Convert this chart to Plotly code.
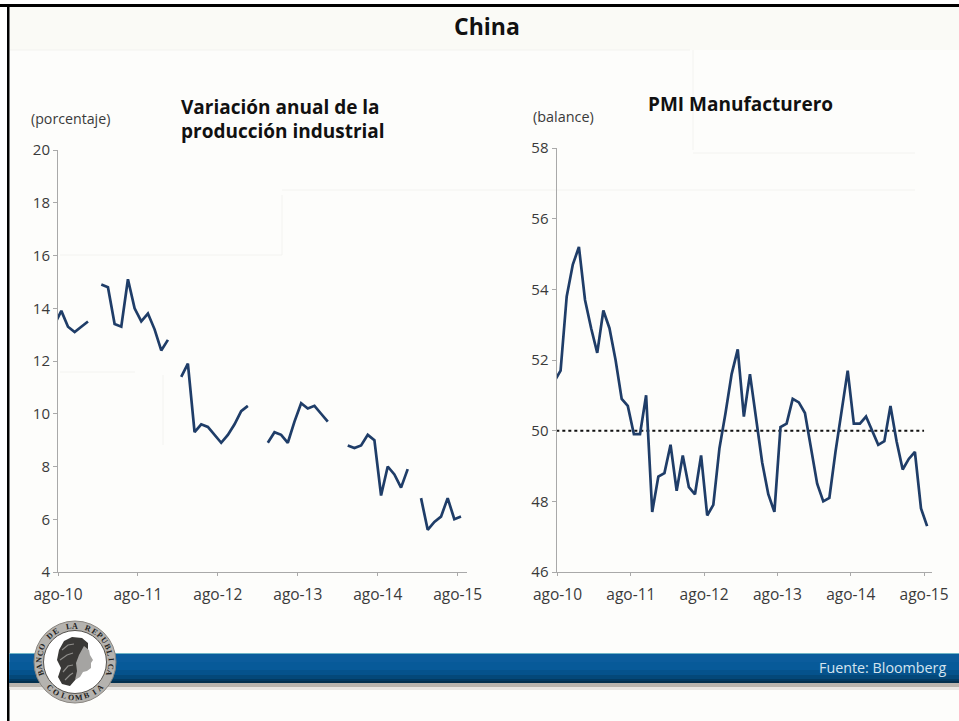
import math
import plotly.graph_objects as go

months = list(range(62))  # 0 = jul-10 ... 61 = ago-15
tick_labels = ["ago-10", "ago-11", "ago-12", "ago-13", "ago-14", "ago-15"]
tick_months = [0.5, 12.5, 24.5, 36.5, 48.5, 60.5]

produccion = [
    13.4, 13.9, 13.3, 13.1, 13.3, 13.5, None,
    14.9, 14.8, 13.4, 13.3, 15.1, 14.0, 13.5, 13.8, 13.2, 12.4, 12.8, None,
    11.4, 11.9, 9.3, 9.6, 9.5, 9.2, 8.9, 9.2, 9.6, 10.1, 10.3, None, None,
    8.9, 9.3, 9.2, 8.9, 9.7, 10.4, 10.2, 10.3, 10.0, 9.7, None, None,
    8.8, 8.7, 8.8, 9.2, 9.0, 6.9, 8.0, 7.7, 7.2, 7.9, None,
    6.8, 5.6, 5.9, 6.1, 6.8, 6.0, 6.1,
]
pmi = [
    51.4, 51.7, 53.8, 54.7, 55.2, 53.7, 52.9, 52.2, 53.4, 52.9, 52.0, 50.9,
    50.7, 49.9, 49.9, 51.0, 47.7, 48.7, 48.8, 49.6, 48.3, 49.3, 48.4, 48.2,
    49.3, 47.6, 47.9, 49.5, 50.5, 51.6, 52.3, 50.4, 51.6, 50.4, 49.1, 48.2,
    47.7, 50.1, 50.2, 50.9, 50.8, 50.5, 49.5, 48.5, 48.0, 48.1, 49.4, 50.6,
    51.7, 50.2, 50.2, 50.4, 50.0, 49.6, 49.7, 50.7, 49.7, 48.9, 49.2, 49.4,
    47.8, 47.3,
]
umbral_x = [0.3, 60.5]
umbral_y = [50, 50]

W, H = 959, 721
FONT = "Open Sans"
NAVY = "#1f3d68"
AXIS = "#a9a9a9"
TXT = "#3a3a3a"


def fx(p):
    return p / W


def fy(p):
    return 1 - p / H


def pth(points, close=True):
    s = "M " + " L ".join(f"{fx(x):.5f},{fy(y):.5f}" for x, y in points)
    return s + (" Z" if close else "")


shapes = []


def rect(x0, y0, x1, y1, color):
    shapes.append(dict(type="rect", xref="paper", yref="paper", layer="below",
                       x0=fx(x0), x1=fx(x1), y0=fy(y0), y1=fy(y1),
                       fillcolor=color, line_width=0))


def seg(x0, y0, x1, y1, color, w=1):
    shapes.append(dict(type="line", xref="paper", yref="paper", layer="below",
                       x0=fx(x0), x1=fx(x1), y0=fy(y0), y1=fy(y1),
                       line=dict(color=color, width=w)))


# page frame and faint background
rect(9, 7, 959, 721, "#fdfdfb")
rect(9, 7, 959, 50, "#fafaf6")
for a in [(60, 255, 282, 255), (282, 195, 282, 255), (282, 190, 915, 190),
          (693, 153, 915, 153), (693, 50, 693, 150), (60, 372, 135, 372),
          (163, 375, 163, 445), (10, 50, 690, 50)]:
    seg(*a, "#f3f3f0", 1)
rect(0, 4, 959, 7, "#000000")
rect(7, 4, 9.5, 721, "#000000")

# banner: painted top to bottom, each band running to the lower edge
rect(9.5, 682, 959, 688, "#b9b4ae")
rect(9.5, 687, 959, 690, "#e9e7e4")
for y, c in [(653, "#6fb5c6"), (654, "#0b5c9c"), (662, "#075a99"), (670, "#05528c"),
             (675, "#044879"), (679, "#033a62"), (681, "#03304f")]:
    rect(9.5, y, 959, 683, c)


# seal
CX, CY = 75, 662


def circle(r, fill, line="rgba(0,0,0,0)", w=0):
    shapes.append(dict(type="circle", xref="paper", yref="paper", layer="below",
                       x0=fx(CX - r), x1=fx(CX + r), y0=fy(CY + r), y1=fy(CY - r),
                       fillcolor=fill, line=dict(color=line, width=w)))


circle(41, "#b5b3af", "#8a8681", 1)
circle(31.5, "#ffffff", "#55524e", 1)
# portrait
hair = [(59, 650), (64, 641), (72, 637), (82, 638), (88, 643), (88, 650), (84, 651),
        (80, 656), (77, 664), (78, 671), (76, 679), (70, 686), (62, 684), (58, 677),
        (61, 668), (57, 660)]
face = [(84, 646), (89, 650), (90, 655), (93, 660), (91, 663), (91, 668), (87, 671),
        (83, 672), (80, 677), (75, 680), (77, 671), (76, 663), (79, 655)]
shapes.append(dict(type="path", xref="paper", yref="paper", layer="below",
                   path=pth(hair), fillcolor="#3a3937", line_width=0))
shapes.append(dict(type="path", xref="paper", yref="paper", layer="below",
                   path=pth(face), fillcolor="#a5a4a2", line_width=0))
for stroke in [[(62, 650), (68, 645), (74, 644)], [(60, 660), (67, 655), (73, 653)],
               [(63, 672), (68, 666), (73, 665)], [(65, 680), (70, 675), (73, 673)]]:
    shapes.append(dict(type="path", xref="paper", yref="paper", layer="below",
                       path=pth(stroke, False), line=dict(color="#8f8e8b", width=1.2)))

annotations = []


def label(x, y, text, size, color=TXT, bold=False, anchor="left", angle=0, family=FONT):
    t = f"<b>{text}</b>" if bold else text
    annotations.append(dict(xref="paper", yref="paper", x=fx(x), y=fy(y), text=t,
                            showarrow=False, xanchor=anchor, yanchor="middle",
                            align=anchor if anchor != "center" else "center",
                            textangle=angle,
                            font=dict(family=family, size=size, color=color)))


# seal lettering, placed letter by letter around the ring
arc_top = "BANCO DE LA REPUBLICA"
for i, ch in enumerate(arc_top):
    if ch == " ":
        continue
    ang = -108 + i * 216 / (len(arc_top) - 1)
    a = math.radians(ang)
    label(CX + 36 * math.sin(a), CY - 36 * math.cos(a), ch, 8, "#222222", True,
          "center", ang, "Liberation Serif")
arc_bot = "COLOMBIA"
for i, ch in enumerate(arc_bot):
    ang = -45 + i * 90 / (len(arc_bot) - 1)
    a = math.radians(ang)
    label(CX + 36 * math.sin(a), CY + 36 * math.cos(a), ch, 8, "#222222", True,
          "center", -ang, "Liberation Serif")

label(487, 26, "China", 23, "#111111", True, "center")
label(179, 107, "Variación anual de la", 19, "#111111", True)
label(179, 131, "producción industrial", 19, "#111111", True)
label(646, 104, "PMI Manufacturero", 19, "#111111", True)
label(29, 118, "(porcentaje)", 14.2)
label(531, 116, "(balance)", 14.4)
label(948, 667, "Fuente: Bloomberg", 14.3, "#d5e4ef", False, "right")

fig = go.Figure()
fig.add_trace(go.Scatter(x=months, y=produccion, mode="lines", connectgaps=False,
                         line=dict(color=NAVY, width=2.7), xaxis="x", yaxis="y",
                         showlegend=False))
fig.add_trace(go.Scatter(x=umbral_x, y=umbral_y, mode="lines",
                         line=dict(color="#111111", width=2, dash="dot"),
                         xaxis="x2", yaxis="y2", showlegend=False))
fig.add_trace(go.Scatter(x=months, y=pmi, mode="lines",
                         line=dict(color=NAVY, width=2.7), xaxis="x2", yaxis="y2",
                         showlegend=False))


def xaxis(p0, p1, r0, r1, anchor):
    return dict(domain=[fx(p0), fx(p1)], range=[r0, r1], anchor=anchor,
                tickmode="array", tickvals=tick_months, ticktext=tick_labels,
                ticks="outside", ticklen=3, tickcolor=AXIS, showgrid=False,
                zeroline=False, showline=True, linecolor=AXIS, linewidth=1,
                ticklabelstandoff=5,
                tickfont=dict(family=FONT, size=15.5, color=TXT))


def yaxis(p0, p1, r0, r1, step, anchor):
    return dict(domain=[fy(p1), fy(p0)], range=[r0, r1], anchor=anchor,
                tickmode="linear", tick0=r0, dtick=step,
                ticks="outside", ticklen=4, tickcolor=AXIS, showgrid=False,
                zeroline=False, showline=True, linecolor=AXIS, linewidth=1,
                tickfont=dict(family=FONT, size=15, color=TXT))


fig.update_layout(
    width=W, height=H, autosize=False,
    margin=dict(l=0, r=0, t=0, b=0, pad=0, autoexpand=False),
    paper_bgcolor="#ffffff", plot_bgcolor="rgba(0,0,0,0)",
    showlegend=False,
    xaxis=xaxis(58, 467, 0.5, 61.9, "y"),
    yaxis=yaxis(150, 572, 4, 20, 2, "x"),
    xaxis2=xaxis(556.5, 932, 0.33, 61.8, "y2"),
    yaxis2=yaxis(148, 572, 46, 58, 2, "x2"),
    shapes=shapes, annotations=annotations,
)

fig.write_html("out.html", config={"displayModeBar": False},
               post_script="document.body.style.margin='0';document.documentElement.style.overflow='hidden';")
